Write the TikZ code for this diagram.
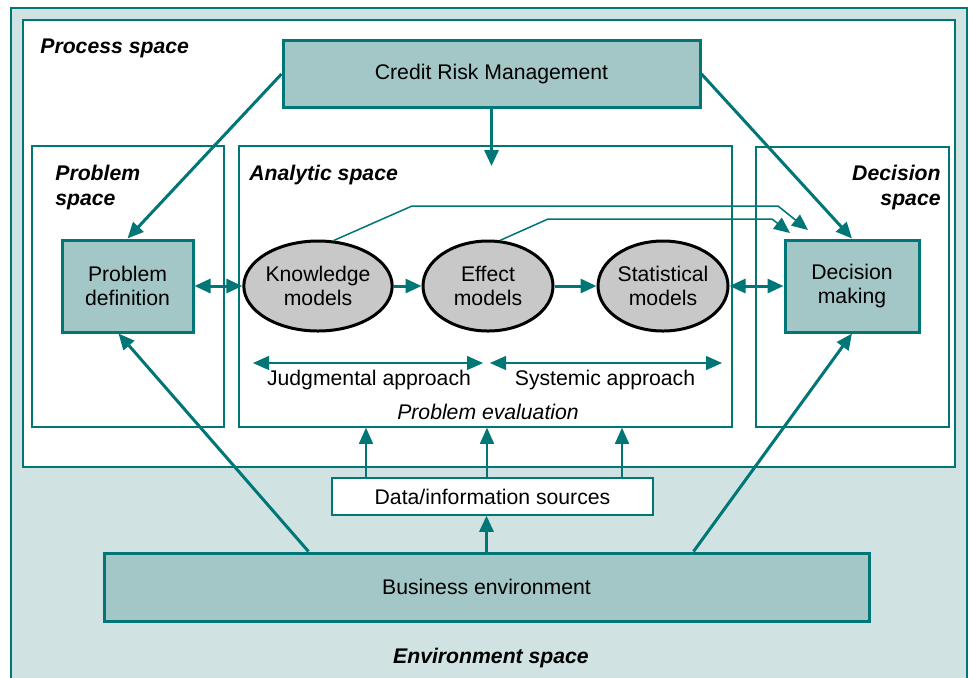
\documentclass[tikz,border=0pt]{standalone}
\usepackage{fontspec}
\setmainfont{Liberation Sans}
\usetikzlibrary{positioning}
\usetikzlibrary{arrows.meta}
\usetikzlibrary{shapes,calc}
\definecolor{tealline}{RGB}{0,118,118}
\definecolor{tealbox}{RGB}{163,198,198}
\definecolor{envfill}{RGB}{208,226,226}
\definecolor{modelgray}{RGB}{200,200,200}
\tikzset{main box/.style={draw=tealline,line width=1.5pt,fill=tealbox,inner sep=0pt,align=center},
  space box/.style={draw=tealline,line width=0.75pt,fill=white,inner sep=0pt},
  model node/.style={ellipse,draw=black,line width=1.5pt,fill=modelgray,minimum width=65pt,minimum height=45pt,inner sep=0pt,align=center},
  space label/.style={font=\fontsize{10.6}{12.5}\selectfont\bfseries\itshape,inner sep=0pt},
  flow/.style={draw=tealline,line width=1.5pt,->},
  thin flow/.style={draw=tealline,line width=0.75pt,->},}

\begin{document}
\begin{tikzpicture}[x=0.5pt, y=-0.5pt, font=\fontsize{10.6}{12}\selectfont, >={Triangle[length=8pt,width=7pt]}]
	\useasboundingbox (0,0) rectangle (969,677);
	\draw[draw=tealline, line width=0.75pt, fill=envfill] (11,8) rectangle (967,700);
	\draw[space box] (23,20) rectangle (955,467);

	\node[space box, minimum width=96pt, minimum height=140.5pt] (probspace) at (128,286.5) {};
	\node[space box, minimum width=246.5pt, minimum height=140.5pt] (analytic) at (485.5,286.5) {};
	\node[space box, minimum width=96.5pt, minimum height=140pt] (decspace) at (852.5,287) {};

	\node[space label, anchor=west] (proclab) at (40,48) {Process space};
	\node[space label, anchor=north west, align=left] (problab) at (55,165) {Problem\\space};
	\node[space label, anchor=west] (analab) at (249,175) {Analytic space};
	\node[space label, anchor=north east, align=right] (declab) at (941,165) {Decision\\space};
	\node[space label] (envlab) at (491,658) {Environment space};

	\node[main box, minimum width=208.5pt, minimum height=33.5pt] (crm) at (491.5,74) {Credit Risk Management};
	\node[main box, minimum width=65.5pt, minimum height=46pt] (pdef) at (127.5,286) {Problem\\definition};
	\node[main box, minimum width=67pt, minimum height=46pt] (dmak) at (852,286) {Decision\\making};
	\node[main box, minimum width=382.5pt, minimum height=34pt] (bus) at (486.5,587) {Business environment};
	\node[space box, minimum width=160.5pt, minimum height=18.5pt] (data) at (492.5,496.5) {Data/information sources};

	\node[model node] (know) at (318,286) {Knowledge\\models};
	\node[model node] (eff) at (488,286) {Effect\\models};
	\node[model node] (stat) at (663,286) {Statistical\\models};

	\node (judg) at (369,380) {Judgmental approach};
	\node (syst) at (605,380) {Systemic approach};
	\node[font=\fontsize{10.6}{12}\selectfont\itshape] (eval) at (488,412) {Problem evaluation};

	\coordinate (judg l) at (253,363);
	\coordinate (judg r) at (483,363);
	\coordinate (syst l) at (490,363);
	\coordinate (syst r) at (722,363);
	\coordinate (crm in) at (491.5,166);
	\coordinate (fb1 end) at (808,230);
	\coordinate (fb2 end) at (790,233);

	% process arrows
	\draw[flow] (crm.west) -- (pdef.north);
	\draw[flow] (crm.east) -- (dmak.north);
	\draw[flow] (crm.south) -- (crm in);
	\draw[flow, <->] (pdef.east) -- (know.west);
	\draw[flow] (know.east) -- (eff.west);
	\draw[flow] (eff.east) -- (stat.west);
	\draw[flow, <->] (stat.east) -- (dmak.west);

	% feedback to decision
	\draw[thin flow] (know.71) -- (412,206) -- (778,206) -- (fb1 end);
	\draw[thin flow] (eff.75) -- (548,219) -- (772,219) -- (fb2 end);

	\draw[draw=tealline, line width=0.6pt, <->] (judg l) -- (judg r);
	\draw[draw=tealline, line width=0.6pt, <->] (syst l) -- (syst r);

	% environment arrows
	\draw[flow] ([xshift=103pt]bus.north west) -- ([xshift=-4.5pt]pdef.south);
	\draw[flow] ([xshift=-88.5pt]bus.north east) -- (dmak.south);
	\draw[flow] (bus.north) -- (bus.north |- data.south);
	\coordinate (d1) at ($(data.north)+(-126.5,0)$);
	\coordinate (d2) at ($(data.north)+(-5.5,0)$);
	\coordinate (d3) at ($(data.north)+(129.5,0)$);
	\draw[thin flow] (d1) -- (d1 |- analytic.south);
	\draw[thin flow] (d2) -- (d2 |- analytic.south);
	\draw[thin flow] (d3) -- (d3 |- analytic.south);
\end{tikzpicture}
\end{document}
